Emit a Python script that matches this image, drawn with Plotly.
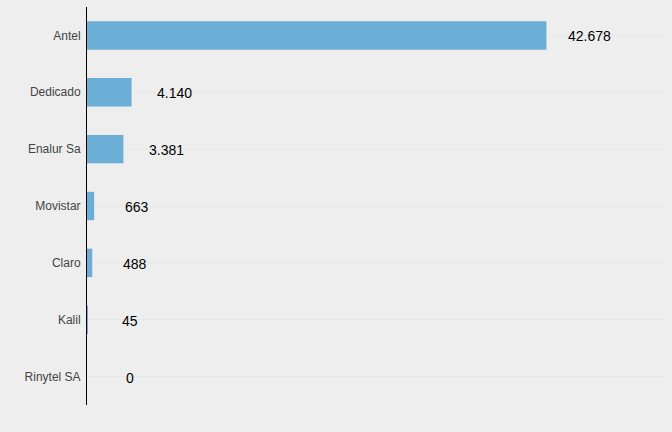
import plotly.graph_objects as go

categories = ["Antel", "Dedicado", "Enalur Sa", "Movistar", "Claro", "Kalil", "Rinytel SA"]
values = [42678, 4140, 3381, 663, 488, 45, 0]

def fmt(v):
    return f"{v:,}".replace(",", ".")

fig = go.Figure()
fig.add_trace(go.Bar(
    y=categories, x=values, orientation="h",
    marker=dict(color="#6BAED6", line=dict(width=0)),
    width=0.5, hoverinfo="x+y",
))
for c, v in zip(categories, values):
    fig.add_annotation(x=v, y=c, text=fmt(v), showarrow=False, xshift=43, yshift=-1,
                       xanchor="center", yanchor="middle",
                       font=dict(family="Liberation Sans, Arial", size=14, color="#000000"))

fig.update_layout(
    width=672, height=432,
    margin=dict(l=87, r=8, t=7, b=27),
    paper_bgcolor="#EEEEEE", plot_bgcolor="#EEEEEE",
    showlegend=False,
    font=dict(family="Liberation Sans, Arial", size=12, color="#444444"),
    xaxis=dict(range=[0, 53600], showgrid=False, zeroline=False, showticklabels=False,
               showline=False, fixedrange=True),
    yaxis=dict(categoryorder="array", categoryarray=categories[::-1], autorange=False,
               range=[-0.5, 6.5], showgrid=True, gridcolor="#E8E8E8", gridwidth=1,
               showline=True, linecolor="#000000", linewidth=1, ticks="",
               ticklabelstandoff=3, zeroline=False,
               tickfont=dict(family="Liberation Sans, Arial", size=12, color="#444444")),
)
fig.write_html("out.html")
